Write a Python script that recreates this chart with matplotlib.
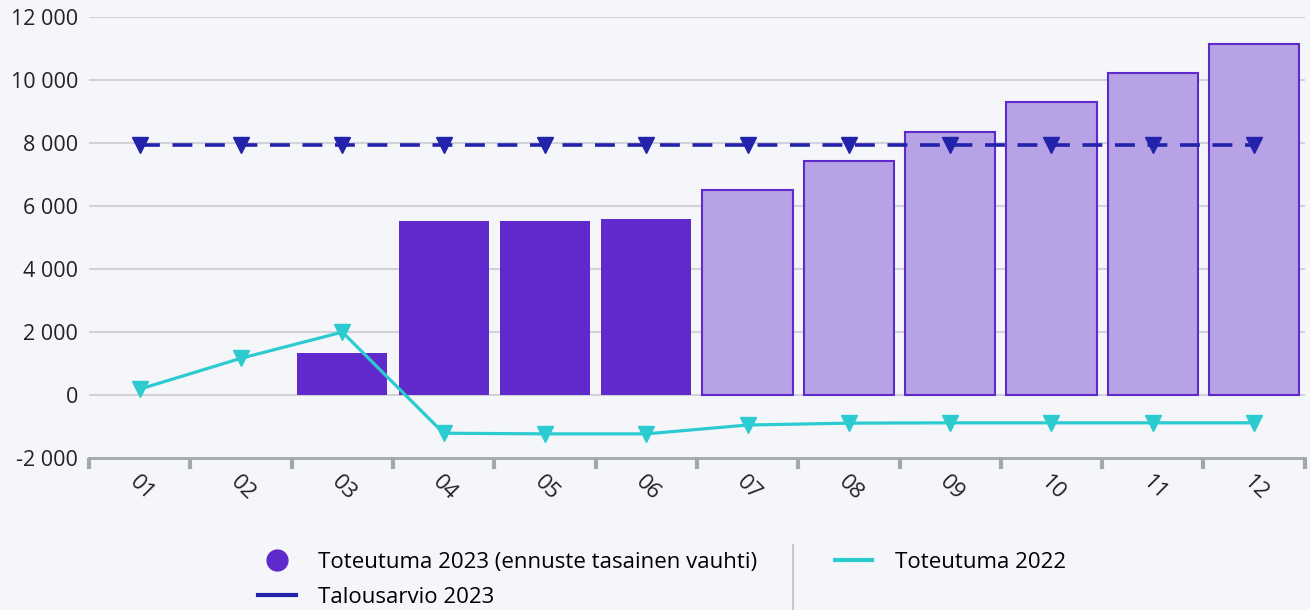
import matplotlib.pyplot as plt
from matplotlib.lines import Line2D
from matplotlib.ticker import FuncFormatter
import numpy as np

plt.rcParams['font.family'] = ['Open Sans', 'DejaVu Sans']

# Data
months = ['01', '02', '03', '04', '05', '06', '07', '08', '09', '10', '11', '12']
toteutuma_2023 = [0, 0, 1330, 5520, 5520, 5590, 6500, 7430, 8350, 9300, 10220, 11140]
is_forecast = [False] * 6 + [True] * 6
talousarvio_2023 = [7940] * 12
toteutuma_2022 = [190, 1170, 2000, -1210, -1230, -1230, -950, -890, -880, -880, -880, -880]

c_dark = '#5f29cc'
c_light = '#b6a2e4'
c_navy = '#2222aa'
c_cyan = '#2ccbd0'
bg = '#f4f6fa'

fig = plt.figure(figsize=(13.1, 6.1), dpi=100, facecolor=bg)
ax = fig.add_axes([0.068, 0.249, 0.928, 0.723], facecolor=bg)

x = np.arange(len(months))
for xi, val, fc in zip(x, toteutuma_2023, is_forecast):
    if val == 0:
        continue
    if fc:
        ax.bar(xi, val, width=0.89, color=c_light, edgecolor=c_dark, linewidth=1.5, zorder=2)
    else:
        ax.bar(xi, val, width=0.89, color=c_dark, edgecolor=c_dark, linewidth=0, zorder=2)

ax.plot(x, talousarvio_2023, color=c_navy, linewidth=2.6, linestyle=(0, (5.5, 3.5)),
        marker='v', markersize=11, zorder=4)
ax.plot(x, toteutuma_2022, color=c_cyan, linewidth=2.3,
        marker='v', markersize=11, zorder=3)

ax.set_xlim(-0.5, len(months) - 0.5)
ax.set_ylim(-2000, 12000)
ax.set_yticks(np.arange(-2000, 12001, 2000))
ax.yaxis.set_major_formatter(FuncFormatter(lambda v, p: f'{int(v):,}'.replace(',', ' ')))
ax.tick_params(axis='y', length=0, labelsize=15.5, pad=8, colors='#222222')
for yv in range(0, 12001, 2000):
    ax.axhline(yv, color='#d2d3d8', linewidth=1.5, zorder=1)

# x axis: ticks between categories, labels at centers
ax.set_xticks(np.arange(-0.5, len(months), 1.0))
ax.set_xticklabels([])
ax.tick_params(axis='x', which='major', length=8, width=3, color='#a3a6ad')
ax.set_xticks(x, minor=True)
ax.set_xticklabels(months, minor=True, rotation=-45, ha='left', va='top',
                   rotation_mode='anchor', fontsize=16, color='#222222')
ax.tick_params(axis='x', which='minor', length=0, pad=10)

for s in ['top', 'right', 'left']:
    ax.spines[s].set_visible(False)
ax.spines['bottom'].set_color('#a3a6ad')
ax.spines['bottom'].set_linewidth(2)

# Legend
handles = [
    Line2D([], [], linestyle='none', marker='o', markersize=15, color=c_dark),
    Line2D([], [], color=c_navy, linewidth=3),
    Line2D([], [], color=c_cyan, linewidth=3),
]
labels = ['Toteutuma 2023 (ennuste tasainen vauhti)', 'Talousarvio 2023', 'Toteutuma 2022']
fig.legend(handles, labels, loc='upper left', bbox_to_anchor=(0.19, 0.11), ncol=2,
           frameon=False, fontsize=16, handlelength=1.7, columnspacing=3.5,
           labelspacing=0.65, handletextpad=1.0, borderaxespad=0)
fig.add_artist(Line2D([0.605, 0.605], [0.0, 0.107], color='#c8c8c8', linewidth=1.5,
                      transform=fig.transFigure))

fig.savefig('out.png', dpi=100, facecolor=bg)
